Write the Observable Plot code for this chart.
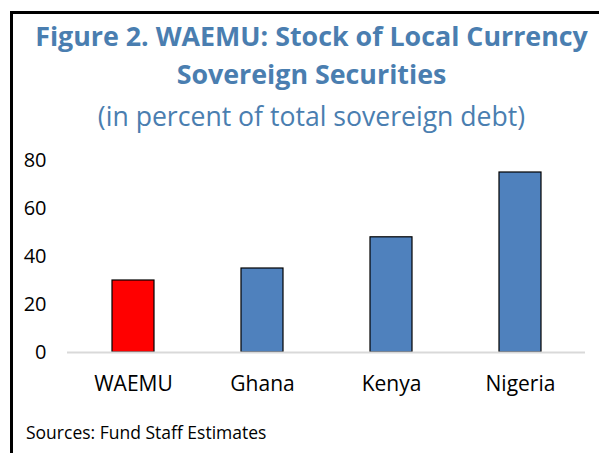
<!DOCTYPE html>
<html>
<head>
<meta charset="utf-8">
<script src="https://cdn.jsdelivr.net/npm/d3@7"></script>
<script src="https://cdn.jsdelivr.net/npm/@observablehq/plot@0.6"></script>
<style>
  html, body { margin: 0; padding: 0; background: #fff; }
  #wrap { position: relative; width: 599px; height: 453px; overflow: hidden; font-family: "Open Sans", sans-serif; }
  #frame { position: absolute; left: 10px; top: 11px; width: 620px; height: 480px; border-left: 3px solid #000; border-top: 3px solid #000; }
  #title { position: absolute; left: 12px; width: 599px; top: 17px; text-align: center; color: #4a7eb0; font-weight: 700; font-size: 26.8px; line-height: 38px; white-space: nowrap; }
  #subtitle { position: absolute; left: 12px; width: 599px; top: 98px; text-align: center; color: #4a7eb0; font-weight: 400; font-size: 26.6px; line-height: 36px; white-space: nowrap; }
  #chart { position: absolute; left: 0; top: 140px; }
  #source { position: absolute; left: 26px; top: 420px; font-size: 17.5px; color: #000; }
</style>
</head>
<body>
<div id="wrap">
  <div id="frame"></div>
  <div id="title">Figure 2. WAEMU: Stock of Local Currency<br>Sovereign Securities</div>
  <div id="subtitle">(in percent of total sovereign debt)</div>
  <div id="chart"></div>
  <div id="source">Sources: Fund Staff Estimates</div>
</div>
<script>
const categories = ["WAEMU", "Ghana", "Kenya", "Nigeria"];
const values = [30, 35, 48, 75];
const barColors = ["#ff0000", "#4f81bd", "#4f81bd", "#4f81bd"];
const yTicks = [0, 20, 40, 60, 80];

const data = categories.map((c, i) => ({category: c, value: values[i], color: barColors[i]}));

const chart = Plot.plot({
  width: 599,
  height: 260,
  marginLeft: 67,
  marginRight: 14,
  marginTop: 20,
  marginBottom: 48,
  style: { fontFamily: "Open Sans, sans-serif", fontSize: "20px", color: "#000", background: "transparent" },
  x: { domain: categories, paddingInner: 0.675, paddingOuter: 0.3375, label: null },
  y: { domain: [0, 80], label: null },
  marks: [
    Plot.barY(data, { x: "category", y: "value", fill: d => d.color, stroke: "#000", strokeWidth: 1.2 }),
    Plot.ruleY([0], { stroke: "#d9d9d9", strokeWidth: 2 }),
    Plot.axisY({ ticks: yTicks, tickSize: 0, tickPadding: 21, label: null, fontSize: 20 }),
    Plot.axisX({ tickSize: 0, tickPadding: 24, label: null, fontSize: 21 })
  ]
});
document.getElementById("chart").appendChild(chart);
</script>
</body>
</html>
